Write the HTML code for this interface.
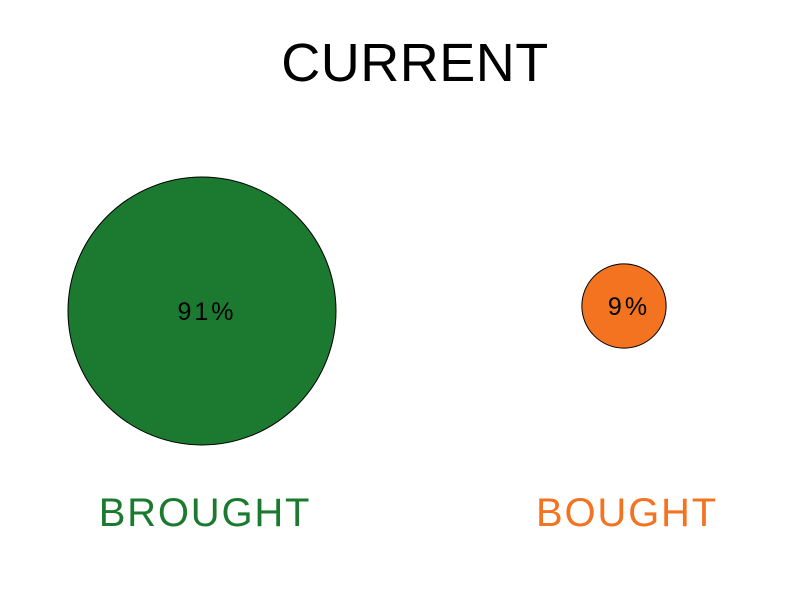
<!DOCTYPE html>
<html><head><meta charset="utf-8"><style>
body{margin:0;background:#fff;}
svg text{font-family:"Liberation Sans",sans-serif;}
</style></head><body>
<svg id="c" width="800" height="600">
<text x="415" y="81" text-anchor="middle" font-size="54" fill="#000" font-weight="300" letter-spacing="0.5">CURRENT</text>
</svg>
<script>
const categories=["BROUGHT","BOUGHT"];
const values=[91,9];
const valueLabels=["91%","9%"];
const colors=["#1b7a30","#f47321"];
const svg=document.getElementById('c');
const ns="http://www.w3.org/2000/svg";
const cx=[202,624], cy=[311,306];
const maxR=134;
const rScale=v=>maxR*Math.sqrt(v/Math.max(...values));
values.forEach((v,i)=>{
  const c=document.createElementNS(ns,'circle');
  c.setAttribute('cx',cx[i]);c.setAttribute('cy',cy[i]);c.setAttribute('r',rScale(v));
  c.setAttribute('fill',colors[i]);c.setAttribute('stroke','#000');c.setAttribute('stroke-width','1');
  
  
  svg.appendChild(c);
  const t=document.createElementNS(ns,'text');
  t.setAttribute('x',cx[i]+5);t.setAttribute('y',cy[i]+9);t.setAttribute('text-anchor','middle');
  t.setAttribute('font-size','25');t.setAttribute('fill','#000');t.setAttribute('letter-spacing','3');
  t.textContent=valueLabels[i];
  
  
  svg.appendChild(t);
  const l=document.createElementNS(ns,'text');
  l.setAttribute('x',cx[i]+3);l.setAttribute('y',526);l.setAttribute('text-anchor','middle');
  l.setAttribute('font-size','40');l.setAttribute('fill',colors[i]);l.setAttribute('letter-spacing','1.8');
  l.textContent=categories[i];
  
  
  svg.appendChild(l);
});
</script>
</body></html>
